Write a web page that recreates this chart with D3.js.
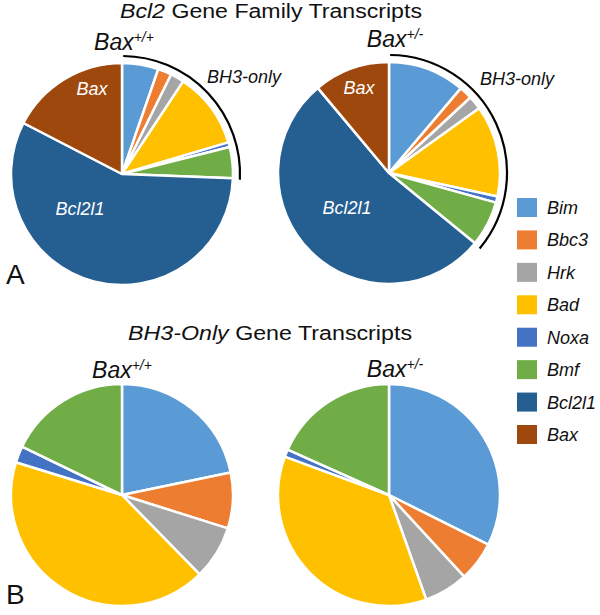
<!DOCTYPE html>
<html>
<head>
<meta charset="utf-8">
<script src="https://cdn.jsdelivr.net/npm/d3@7"></script>
<style>
  body { margin: 0; background: #fff; }
  svg text { font-family: Arial, 'Liberation Sans', sans-serif; }
</style>
</head>
<body>
<div id="chart"></div>
<script>
// gene names, in legend / pie order (clockwise from 12 o'clock)
const genes = ['Bim', 'Bbc3', 'Hrk', 'Bad', 'Noxa', 'Bmf', 'Bcl2l1', 'Bax'];
const geneColors = ['#5b9bd5', '#ed7d31', '#a5a5a5', '#ffc000', '#4472c4', '#70ad47', '#255e91', '#9e480e'];
const bh3Count = 6; // first 6 genes are BH3-only

// percent of transcripts
const familyWT = [5.3, 2.0, 2.0, 11.1, 0.7, 4.5, 57.0, 17.4];
const familyHet = [11.2, 1.9, 2.0, 13.3, 0.9, 6.6, 53.0, 11.1];
const bh3WT = [21.7, 8.1, 7.8, 42.0, 2.4, 17.8];
const bh3Het = [32.4, 5.8, 6.4, 36.1, 1.1, 18.3];

const width = 600, height = 615;
const radius = 111;

const color = d3.scaleOrdinal().domain(genes).range(geneColors);

const svg = d3.select('#chart').append('svg')
    .attr('width', width)
    .attr('height', height);

const pie = d3.pie().sort(null).value(d => d.value);
const arc = d3.arc().innerRadius(0).outerRadius(radius);

// draw one pie; returns the group so labels can be added relative to its center
function drawPie(values, cx, cy, header, headerDx, headerDy) {
  const data = values.map((v, i) => ({gene: genes[i], value: v}));
  const g = svg.append('g').attr('transform', 'translate(' + cx + ',' + cy + ')');
  const arcs = pie(data);
  g.selectAll('path.slice')
      .data(arcs)
      .enter().append('path')
      .attr('class', 'slice')
      .attr('d', arc)
      .attr('fill', d => color(d.data.gene))
      .attr('stroke', '#fff')
      .attr('stroke-width', 2.5)
      .attr('stroke-linejoin', 'round');

  // Bax^{+/+} style header
  const t = g.append('text')
      .attr('x', headerDx)
      .attr('y', headerDy)
      .attr('text-anchor', 'middle')
      .attr('fill', '#111')
      .style('font-style', 'italic')
      .style('font-size', '23px');
  t.append('tspan').text('Bax');
  t.append('tspan').attr('dy', -8).style('font-size', '14px').text(header);
  return {g: g, arcs: arcs};
}

// Panel A: Bcl2 gene family
function familyLabels(p, bh3Dx, bh3Dy) {
  const g = p.g;
  const bh3End = p.arcs[bh3Count - 1].endAngle;
  const bracket = d3.arc()
      .innerRadius(radius + 7)
      .outerRadius(radius + 7)
      .startAngle(0.01)
      .endAngle(bh3End + 0.01);
  g.append('path')
      .attr('d', bracket())
      .attr('fill', 'none')
      .attr('stroke', '#000')
      .attr('stroke-width', 2.2);
  g.append('text')
      .attr('x', bh3Dx).attr('y', bh3Dy)
      .style('font-style', 'italic').style('font-size', '18px')
      .attr('fill', '#111')
      .text('BH3-only');
  g.append('text')
      .attr('x', -30).attr('y', -79)
      .attr('text-anchor', 'middle')
      .style('font-style', 'italic').style('font-size', '18px')
      .attr('fill', '#fff')
      .text('Bax');
  g.append('text')
      .attr('x', -42).attr('y', 41)
      .attr('text-anchor', 'middle')
      .style('font-style', 'italic').style('font-size', '18px')
      .attr('fill', '#fff')
      .text('Bcl2l1');
}

const aLeft = drawPie(familyWT, 122, 174, '+/+', 2, -124);
familyLabels(aLeft, 85, -91);
const aRight = drawPie(familyHet, 389, 173, '+/-', 6, -126);
familyLabels(aRight, 91, -88);

// Panel B: BH3-only genes
drawPie(bh3WT, 122, 495, '+/+', 0, -117);
drawPie(bh3Het, 389, 495, '+/-', 6, -118);

// titles
const titleA = svg.append('text')
    .attr('x', 120).attr('y', 18)
    .attr('textLength', 302).attr('lengthAdjust', 'spacingAndGlyphs')
    .style('font-size', '20px').attr('fill', '#111');
titleA.append('tspan').style('font-style', 'italic').text('Bcl2');
titleA.append('tspan').text(' Gene Family Transcripts');

const titleB = svg.append('text')
    .attr('x', 128).attr('y', 340)
    .attr('textLength', 284).attr('lengthAdjust', 'spacingAndGlyphs')
    .style('font-size', '20px').attr('fill', '#111');
titleB.append('tspan').style('font-style', 'italic').text('BH3-Only');
titleB.append('tspan').text(' Gene Transcripts');

// panel letters
svg.append('text').attr('x', 6).attr('y', 284).style('font-size', '28px').attr('fill', '#111').text('A');
svg.append('text').attr('x', 6).attr('y', 604).style('font-size', '28px').attr('fill', '#111').text('B');

// legend
const legendY = d3.scalePoint().domain(genes).range([208, 435]);
const legend = svg.append('g');
legend.selectAll('rect')
    .data(genes)
    .enter().append('rect')
    .attr('x', 517)
    .attr('y', d => legendY(d) - 10)
    .attr('width', 20)
    .attr('height', 19)
    .attr('fill', d => color(d));
legend.selectAll('text')
    .data(genes)
    .enter().append('text')
    .attr('x', 547)
    .attr('y', d => legendY(d) + 6)
    .style('font-style', 'italic')
    .style('font-size', '18px')
    .attr('fill', '#111')
    .text(d => d);
</script>
</body>
</html>
